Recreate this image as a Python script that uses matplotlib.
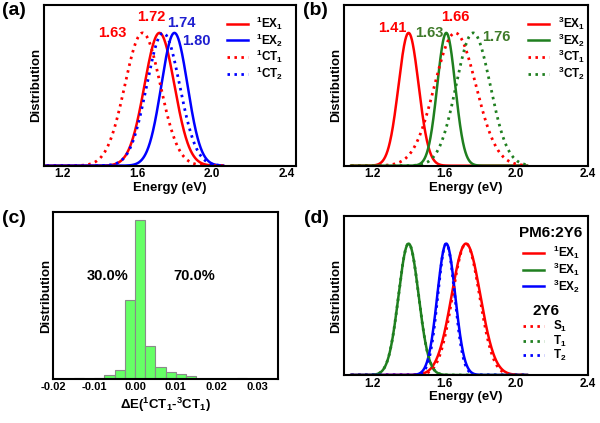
import numpy as np
import matplotlib
matplotlib.use("Agg")
import matplotlib.pyplot as plt

plt.rcParams['font.family'] = ['Liberation Sans', 'DejaVu Sans']
plt.rcParams['font.weight'] = 'bold'
plt.rcParams['mathtext.fontset'] = 'custom'
plt.rcParams['mathtext.rm'] = 'Liberation Sans:bold'
plt.rcParams['mathtext.bf'] = 'Liberation Sans:bold'
plt.rcParams['mathtext.it'] = 'Liberation Sans:bold'
plt.rcParams['mathtext.default'] = 'rm'

RED = '#ff0000'
BLUE = '#0000ff'
GREEN = '#1f7f1f'
TXT_BLUE = '#1f1fd0'
TXT_GREEN = '#3f7a2a'

# (a) singlet states: peak energy (eV) and width (eV)
a_labels = [r'$^1$EX$_1$', r'$^1$EX$_2$', r'$^1$CT$_1$', r'$^1$CT$_2$']
a_peak = [1.72, 1.80, 1.63, 1.74]
a_sigma = [0.080, 0.070, 0.095, 0.088]
a_marks = ['1.63', '1.72', '1.74', '1.80']

# (b) triplet states
b_labels = [r'$^3$EX$_1$', r'$^3$EX$_2$', r'$^3$CT$_1$', r'$^3$CT$_2$']
b_peak = [1.40, 1.61, 1.66, 1.76]
b_sigma = [0.056, 0.050, 0.115, 0.095]
b_marks = ['1.41', '1.63', '1.66', '1.76']

# (c) histogram of dE(1CT1-3CT1): bin left edges and heights
c_left = [-0.015, -0.01, -0.0075, -0.005, -0.0025, 0.0, 0.0025, 0.005,
          0.0075, 0.01, 0.0125, 0.0175, 0.025]
c_height = [0.6, 0.6, 4, 9, 79, 159, 33, 12, 7, 5, 3, 0.5, 0.8]
c_width = 0.0025
c_xticks = [-0.02, -0.01, 0.0, 0.01, 0.02, 0.03]
c_xticklabels = ['-0.02', '-0.01', '0.00', '0.01', '0.02', '0.03']

# (d) PM6:2Y6 vs 2Y6
d_blend_labels = [r'$^1$EX$_1$', r'$^3$EX$_1$', r'$^3$EX$_2$']
d_blend_peak = [1.72, 1.40, 1.61]
d_blend_sigma = [0.080, 0.056, 0.050]
d_mol_labels = [r'S$_1$', r'T$_1$', r'T$_2$']
d_mol_peak = [1.72, 1.40, 1.61]
d_mol_sigma = [0.075, 0.056, 0.047]

e_ticks = [1.2, 1.6, 2.0, 2.4]
e_ticklabels = ['1.2', '1.6', '2.0', '2.4']


def gauss(x, mu, s):
    return np.exp(-0.5 * ((x - mu) / s) ** 2)


DOT = (0, (0.9, 1.6))
LW_SOLID = 1.8
LW_DOT = 2.0
x = np.linspace(1.08, 2.06, 600)

fig = plt.figure(figsize=(6, 4.23), dpi=100)
W, H = 600, 423


def place(l, r, t, b):
    return fig.add_axes([l / W, 1 - b / H, (r - l) / W, (b - t) / H])


def style(ax, xlim, ylim):
    ax.set_xlim(*xlim)
    ax.set_ylim(*ylim)
    ax.set_yticks([])
    for sp in ax.spines.values():
        sp.set_linewidth(1.5)
    ax.tick_params(axis='x', length=0, pad=2, labelsize=8.5)
    ax.set_ylabel('Distribution', fontsize=9.5, fontweight='bold', labelpad=1)


def energy_axis(ax, xlim):
    style(ax, xlim, (0, 1.21))
    ax.set_xticks(e_ticks)
    ax.set_xticklabels(e_ticklabels, fontweight='bold')
    ax.set_xlabel('Energy (eV)', fontsize=9.5, fontweight='bold', labelpad=1)


LEG = dict(loc='upper left', frameon=False, fontsize=8.5, handlelength=1.8,
           handletextpad=0.7, labelspacing=-0.05, borderpad=0, borderaxespad=0)

# ---- (a)
ax = place(43.5, 296, 5, 165.7)
cols = [RED, BLUE, RED, BLUE]
lss = ['-', '-', DOT, DOT]
for lab, mu, s, c, ls in zip(a_labels, a_peak, a_sigma, cols, lss):
    lw = LW_SOLID if ls == '-' else LW_DOT
    ax.plot(x, gauss(x, mu, s), color=c, ls=ls, lw=lw, label=lab)
energy_axis(ax, (1.1, 2.45))
ax.legend(bbox_to_anchor=(0.725, 0.94), **LEG)
pos = [(1.47, 1.0), (1.675, 1.12), (1.835, 1.075), (1.915, 0.94)]
tcol = [RED, RED, TXT_BLUE, TXT_BLUE]
for t, (px, py), c in zip(a_marks, pos, tcol):
    ax.text(px, py, t, color=c, fontsize=10.5, fontweight='bold',
            ha='center', va='center')

# ---- (b)
ax = place(344, 588, 5, 165.7)
cols = [RED, GREEN, RED, GREEN]
for lab, mu, s, c, ls in zip(b_labels, b_peak, b_sigma, cols, lss):
    lw = LW_SOLID if ls == '-' else LW_DOT
    ax.plot(x, gauss(x, mu, s), color=c, ls=ls, lw=lw, label=lab)
energy_axis(ax, (1.04, 2.4))
ax.legend(bbox_to_anchor=(0.755, 0.94), **LEG)
pos = [(1.312, 1.034), (1.514, 0.996), (1.662, 1.121), (1.891, 0.97)]
tcol = [RED, TXT_GREEN, RED, TXT_GREEN]
for t, (px, py), c in zip(b_marks, pos, tcol):
    ax.text(px, py, t, color=c, fontsize=10.5, fontweight='bold',
            ha='center', va='center')

# ---- (c)
ax = place(53.3, 278, 212, 379)
ax.bar(c_left, c_height, width=c_width, align='edge', color='#66ff66',
       edgecolor='#8a8a8a', linewidth=0.8)
style(ax, (-0.02, 0.035), (0, max(c_height) * 167 / 159))
ax.set_xticks(c_xticks)
ax.set_xticklabels(c_xticklabels, fontweight='bold', fontsize=8)
ax.set_xlabel('ΔE($^1$CT$_1$-$^3$CT$_1$)', fontsize=9.5, fontweight='bold',
              labelpad=3)
ax.text(0.241, 0.617, '30.0%', transform=ax.transAxes, fontsize=10.5,
        fontweight='bold', ha='center', va='center')
ax.text(0.626, 0.617, '70.0%', transform=ax.transAxes, fontsize=10.5,
        fontweight='bold', ha='center', va='center')

# ---- (d)
ax = place(344, 588, 216, 375)
cols = [RED, GREEN, BLUE]
h1 = []
for lab, mu, s, c in zip(d_blend_labels, d_blend_peak, d_blend_sigma, cols):
    ln, = ax.plot(x, gauss(x, mu, s), color=c, lw=LW_SOLID, label=lab)
    h1.append(ln)
h2 = []
for lab, mu, s, c in zip(d_mol_labels, d_mol_peak, d_mol_sigma, cols):
    ln, = ax.plot(x, gauss(x, mu, s), color=c, ls=DOT, lw=LW_DOT, label=lab)
    h2.append(ln)
energy_axis(ax, (1.04, 2.4))
leg1 = ax.legend(handles=h1, bbox_to_anchor=(0.734, 0.824), **LEG)
ax.add_artist(leg1)
ax.legend(handles=h2, bbox_to_anchor=(0.734, 0.351), **LEG)
ax.text(0.848, 0.896, 'PM6:2Y6', transform=ax.transAxes, fontsize=11,
        fontweight='bold', ha='center', va='center')
ax.text(0.828, 0.403, '2Y6', transform=ax.transAxes, fontsize=11,
        fontweight='bold', ha='center', va='center')

# panel labels
for lab, px, py in [('(a)', 2, 2), ('(b)', 303, 2), ('(c)', 2, 210), ('(d)', 304, 210)]:
    fig.text(px / W, 1 - py / H, lab, fontsize=14, fontweight='bold',
             ha='left', va='top')

fig.savefig('out.png', dpi=100)
